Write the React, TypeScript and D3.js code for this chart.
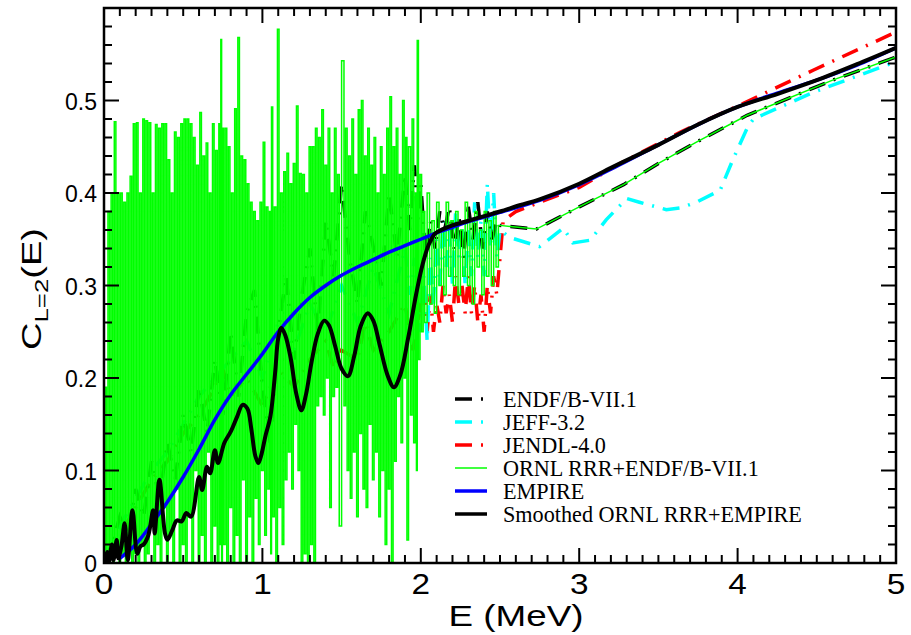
import React from 'react';
import * as d3 from 'd3';

type P = [number, number];

const xTickValues = [0, 1, 2, 3, 4, 5];
const yTickValues = [0, 0.1, 0.2, 0.3, 0.4, 0.5];
const yTickLabels = ['0', '0.1', '0.2', '0.3', '0.4', '0.5'];

const legendLabels = ['ENDF/B-VII.1', 'JEFF-3.2', 'JENDL-4.0', 'ORNL RRR+ENDF/B-VII.1', 'EMPIRE', 'Smoothed ORNL RRR+EMPIRE'];

const empire: P[] = [
  [0.1, 0.005], [0.2, 0.02], [0.3, 0.042], [0.4, 0.066], [0.5, 0.093], [0.6, 0.123], [0.7, 0.155], [0.8, 0.182],
  [0.9, 0.204], [1.0, 0.226], [1.1, 0.25], [1.2, 0.27], [1.3, 0.287], [1.4, 0.30], [1.5, 0.311], [1.6, 0.32],
  [1.7, 0.328], [1.8, 0.336], [1.9, 0.343], [2.0, 0.35], [2.1, 0.357], [2.2, 0.363], [2.3, 0.369], [2.4, 0.374],
  [2.5, 0.379], [2.75, 0.392], [3.0, 0.409], [3.25, 0.43], [3.5, 0.452], [3.75, 0.474], [4.0, 0.493], [4.25, 0.508],
  [4.5, 0.522], [4.75, 0.538], [5.0, 0.557],
];

const smoothed: P[] = [
  [0.0, 0.0], [0.02, 0.012], [0.03, 0.0], [0.05, 0.02], [0.06, 0.003], [0.08, 0.025], [0.09, 0.005], [0.11, 0.018],
  [0.13, 0.043], [0.15, 0.003], [0.18, 0.057], [0.21, 0.01], [0.23, 0.018], [0.25, 0.02], [0.28, 0.03], [0.31, 0.057],
  [0.32, 0.032], [0.35, 0.09], [0.385, 0.032], [0.40, 0.025], [0.43, 0.035], [0.46, 0.046], [0.49, 0.045], [0.52, 0.054],
  [0.55, 0.05], [0.60, 0.093], [0.62, 0.079], [0.65, 0.104], [0.67, 0.097], [0.70, 0.122], [0.72, 0.108], [0.76, 0.13],
  [0.80, 0.142], [0.84, 0.158], [0.875, 0.171], [0.905, 0.167], [0.93, 0.145], [0.955, 0.116], [0.975, 0.108],
  [0.995, 0.118], [1.02, 0.138], [1.05, 0.158], [1.08, 0.205], [1.10, 0.243], [1.12, 0.254], [1.145, 0.246],
  [1.18, 0.22], [1.215, 0.182], [1.246, 0.165], [1.275, 0.182], [1.31, 0.217], [1.35, 0.248], [1.39, 0.262],
  [1.42, 0.257], [1.46, 0.234], [1.50, 0.21], [1.54, 0.202], [1.58, 0.224], [1.62, 0.256], [1.665, 0.27], [1.70, 0.262],
  [1.74, 0.236], [1.79, 0.203], [1.83, 0.19], [1.87, 0.203], [1.92, 0.243], [1.97, 0.29], [2.01, 0.322], [2.05, 0.344],
  [2.09, 0.356], [2.14, 0.361], [2.2, 0.365], [2.3, 0.370], [2.4, 0.375], [2.5, 0.38], [2.63, 0.387], [2.75, 0.393],
  [3.0, 0.410], [3.21, 0.428], [3.5, 0.452], [3.75, 0.474], [4.0, 0.493], [4.25, 0.507], [4.5, 0.522], [4.75, 0.539],
  [5.0, 0.557],
];

const endf: P[] = [
  [0, 0], [0.05, 0.02], [0.1, 0.05], [0.15, 0.03], [0.2, 0.08], [0.25, 0.05], [0.3, 0.11], [0.35, 0.07], [0.4, 0.13],
  [0.45, 0.09], [0.5, 0.16], [0.55, 0.12], [0.6, 0.19], [0.65, 0.14], [0.7, 0.22], [0.75, 0.16], [0.8, 0.25], [0.85, 0.18],
  [0.9, 0.27], [0.95, 0.295], [1.0, 0.19], [1.05, 0.13], [1.1, 0.25], [1.15, 0.31], [1.2, 0.22], [1.25, 0.29], [1.3, 0.34],
  [1.35, 0.25], [1.4, 0.37], [1.45, 0.31], [1.5, 0.41], [1.55, 0.33], [1.6, 0.28], [1.65, 0.38], [1.69, 0.35], [1.75, 0.30],
  [1.8, 0.40], [1.85, 0.33], [1.9, 0.42], [1.93, 0.36], [1.96, 0.43], [1.98, 0.37], [2.0, 0.41], [2.03, 0.33], [2.06, 0.37],
  [2.09, 0.34], [2.12, 0.38], [2.15, 0.36], [2.18, 0.385], [2.21, 0.34], [2.24, 0.375], [2.27, 0.33], [2.3, 0.385],
  [2.33, 0.35], [2.36, 0.39], [2.39, 0.34], [2.42, 0.38], [2.45, 0.35], [2.48, 0.37], [2.5, 0.365], [2.73, 0.361],
  [3.0, 0.385], [3.28, 0.409], [3.5, 0.432], [3.74, 0.455], [4.06, 0.484], [4.6, 0.522], [5.0, 0.547],
];

const jeff: P[] = [
  [0, 0], [0.1, 0.04], [0.2, 0.07], [0.3, 0.1], [0.4, 0.12], [0.5, 0.15], [0.6, 0.18], [0.7, 0.2], [0.8, 0.22], [0.9, 0.24],
  [1.0, 0.2], [1.1, 0.26], [1.2, 0.23], [1.3, 0.28], [1.4, 0.25], [1.5, 0.3], [1.6, 0.26], [1.7, 0.32], [1.8, 0.27],
  [1.9, 0.34], [1.93, 0.29], [1.96, 0.33], [1.99, 0.25], [2.02, 0.31], [2.04, 0.24], [2.06, 0.33], [2.08, 0.28], [2.1, 0.35],
  [2.12, 0.30], [2.14, 0.37], [2.16, 0.32], [2.18, 0.36], [2.2, 0.30], [2.22, 0.38], [2.24, 0.33], [2.26, 0.37], [2.28, 0.30],
  [2.3, 0.36], [2.32, 0.31], [2.34, 0.39], [2.36, 0.33], [2.38, 0.37], [2.4, 0.31], [2.42, 0.41], [2.44, 0.34], [2.46, 0.40],
  [2.48, 0.33], [2.5, 0.36], [2.56, 0.352], [2.75, 0.342], [2.9, 0.362], [2.96, 0.346], [3.07, 0.349], [3.17, 0.371],
  [3.30, 0.394], [3.38, 0.39], [3.55, 0.382], [3.64, 0.384], [3.74, 0.39], [3.89, 0.403], [3.97, 0.436], [4.06, 0.47],
  [4.1, 0.48], [4.48, 0.509], [5.0, 0.542],
];

const jendl: P[] = [
  [0, 0], [0.1, 0.03], [0.2, 0.06], [0.3, 0.09], [0.4, 0.11], [0.5, 0.14], [0.6, 0.16], [0.7, 0.19], [0.75, 0.21], [0.8, 0.18],
  [0.9, 0.2], [1.0, 0.17], [1.1, 0.21], [1.2, 0.19], [1.3, 0.22], [1.4, 0.24], [1.45, 0.21], [1.5, 0.23], [1.6, 0.22],
  [1.65, 0.26], [1.7, 0.23], [1.8, 0.25], [1.9, 0.28], [1.95, 0.23], [2.0, 0.28], [2.02, 0.30], [2.04, 0.25], [2.06, 0.29],
  [2.08, 0.25], [2.1, 0.28], [2.12, 0.26], [2.14, 0.30], [2.16, 0.27], [2.18, 0.29], [2.2, 0.26], [2.22, 0.31], [2.24, 0.28],
  [2.26, 0.30], [2.28, 0.27], [2.3, 0.31], [2.32, 0.27], [2.34, 0.30], [2.36, 0.26], [2.38, 0.29], [2.4, 0.25], [2.42, 0.30],
  [2.44, 0.27], [2.46, 0.31], [2.48, 0.29], [2.5, 0.33], [2.52, 0.37], [2.6, 0.38], [2.75, 0.39], [3.0, 0.406], [3.26, 0.432],
  [3.64, 0.466], [4.0, 0.494], [4.48, 0.533], [5.0, 0.574],
];

const ornl: P[] = [
  [0.00, 0.00], [0.01, 0.19], [0.02, 0.00], [0.03, 0.38], [0.04, 0.01], [0.05, 0.40], [0.06, 0.00], [0.07, 0.477],
  [0.08, 0.02], [0.09, 0.40], [0.10, 0.00], [0.11, 0.40], [0.12, 0.01], [0.13, 0.39], [0.14, 0.00], [0.15, 0.40],
  [0.16, 0.03], [0.17, 0.418], [0.18, 0.00], [0.19, 0.475], [0.20, 0.01], [0.21, 0.476], [0.22, 0.00], [0.23, 0.40],
  [0.24, 0.02], [0.25, 0.48], [0.26, 0.00], [0.27, 0.478], [0.28, 0.01], [0.29, 0.476], [0.30, 0.04], [0.31, 0.40],
  [0.32, 0.00], [0.33, 0.474], [0.34, 0.02], [0.35, 0.47], [0.36, 0.00], [0.37, 0.475], [0.38, 0.06], [0.39, 0.475],
  [0.40, 0.00], [0.41, 0.436], [0.42, 0.03], [0.43, 0.40], [0.44, 0.00], [0.45, 0.466], [0.46, 0.08], [0.47, 0.46],
  [0.48, 0.00], [0.49, 0.475], [0.50, 0.02], [0.51, 0.48], [0.52, 0.00], [0.53, 0.48], [0.54, 0.05], [0.55, 0.475],
  [0.56, 0.00], [0.57, 0.46], [0.58, 0.10], [0.59, 0.43], [0.60, 0.00], [0.61, 0.487], [0.62, 0.03], [0.63, 0.44],
  [0.64, 0.00], [0.65, 0.454], [0.66, 0.12], [0.67, 0.40], [0.68, 0.00], [0.69, 0.475], [0.70, 0.04], [0.71, 0.446],
  [0.72, 0.00], [0.73, 0.475], [0.735, 0.02], [0.74, 0.566], [0.745, 0.00], [0.75, 0.47], [0.76, 0.02], [0.77, 0.47],
  [0.78, 0.00], [0.79, 0.45], [0.80, 0.06], [0.81, 0.40], [0.82, 0.00], [0.83, 0.491], [0.84, 0.03], [0.85, 0.568],
  [0.86, 0.00], [0.87, 0.44], [0.88, 0.09], [0.89, 0.436], [0.90, 0.00], [0.91, 0.41], [0.92, 0.05], [0.93, 0.39],
  [0.94, 0.00], [0.95, 0.38], [0.96, 0.07], [0.97, 0.37], [0.98, 0.02], [0.99, 0.39], [1.00, 0.10], [1.01, 0.455],
  [1.02, 0.03], [1.03, 0.385], [1.04, 0.08], [1.05, 0.38], [1.055, 0.01], [1.06, 0.493], [1.07, 0.05], [1.08, 0.385],
  [1.09, 0.00], [1.10, 0.577], [1.11, 0.06], [1.12, 0.40], [1.13, 0.02], [1.14, 0.423], [1.15, 0.09], [1.16, 0.443],
  [1.17, 0.12], [1.18, 0.41], [1.19, 0.08], [1.20, 0.432], [1.21, 0.15], [1.22, 0.494], [1.23, 0.10], [1.24, 0.421],
  [1.25, 0.00], [1.26, 0.42], [1.27, 0.01], [1.28, 0.40], [1.29, 0.00], [1.30, 0.45], [1.31, 0.02], [1.32, 0.45],
  [1.33, 0.00], [1.34, 0.47], [1.35, 0.17], [1.36, 0.46], [1.37, 0.18], [1.38, 0.49], [1.39, 0.16], [1.40, 0.43],
  [1.41, 0.20], [1.42, 0.47], [1.43, 0.06], [1.44, 0.40], [1.45, 0.18], [1.46, 0.47], [1.47, 0.19], [1.48, 0.42],
  [1.49, 0.04], [1.51, 0.543], [1.52, 0.17], [1.53, 0.47], [1.54, 0.10], [1.55, 0.44], [1.56, 0.07], [1.57, 0.48],
  [1.58, 0.12], [1.59, 0.42], [1.60, 0.05], [1.61, 0.49], [1.62, 0.14], [1.63, 0.50], [1.64, 0.08], [1.65, 0.44],
  [1.66, 0.06], [1.67, 0.47], [1.68, 0.15], [1.69, 0.43], [1.70, 0.09], [1.71, 0.46], [1.72, 0.12], [1.73, 0.40],
  [1.74, 0.05], [1.75, 0.45], [1.76, 0.10], [1.77, 0.42], [1.78, 0.02], [1.79, 0.47], [1.80, 0.08], [1.81, 0.504],
  [1.82, 0.00], [1.83, 0.45], [1.84, 0.11], [1.85, 0.47], [1.86, 0.18], [1.87, 0.42], [1.88, 0.13], [1.89, 0.50],
  [1.90, 0.20], [1.91, 0.46], [1.915, 0.025], [1.93, 0.45], [1.94, 0.16], [1.95, 0.48], [1.96, 0.13], [1.97, 0.40],
  [1.975, 0.10], [1.98, 0.565], [1.99, 0.22], [2.00, 0.42], [2.01, 0.25], [2.02, 0.38], [2.03, 0.26], [2.05, 0.40],
  [2.06, 0.28], [2.08, 0.37], [2.09, 0.27], [2.11, 0.39], [2.12, 0.30], [2.14, 0.36], [2.15, 0.29], [2.17, 0.39],
  [2.18, 0.31], [2.20, 0.37], [2.21, 0.30], [2.23, 0.38], [2.24, 0.29], [2.26, 0.36], [2.27, 0.31], [2.29, 0.39],
  [2.30, 0.30], [2.32, 0.37], [2.33, 0.28], [2.35, 0.38], [2.36, 0.32], [2.38, 0.36], [2.39, 0.29], [2.41, 0.38],
  [2.42, 0.31], [2.44, 0.37], [2.45, 0.30], [2.47, 0.38], [2.48, 0.32], [2.50, 0.365], [2.73, 0.361], [3.0, 0.385],
  [3.28, 0.409], [3.5, 0.432], [3.74, 0.455], [4.06, 0.484], [4.6, 0.522], [5.0, 0.547],
];

const L = 104, R = 896, T = 8, B = 563;
const DASH = '17,9,2,9';
const SANS = "'Liberation Sans', Arial, Helvetica, sans-serif";

export default function App() {
  const x = d3.scaleLinear().domain([0, 5]).range([L, R]);
  const y = d3.scaleLinear().domain([0, 0.6]).range([B, T]);
  const lin = d3.line<P>().x(d => x(d[0])).y(d => y(d[1]));
  const smooth = d3.line<P>().x(d => x(d[0])).y(d => y(d[1])).curve(d3.curveCatmullRom.alpha(0.5));

  // resonance part drawn as near-vertical spikes (step), tail as straight segments
  const ornlRes = ornl.filter(d => d[0] <= 2.5);
  const ornlTail = ornl.filter(d => d[0] >= 2.5);
  const step = d3.line<P>().x(d => x(d[0])).y(d => y(d[1])).curve(d3.curveStep);

  const xMinor = d3.range(0, 51).map(i => i / 10);
  const yMinor = d3.range(0, 31).map(i => i / 50);

  const tickStroke = { stroke: '#000', strokeWidth: 2 };

  const legendStyles = [
    { color: '#000', dash: DASH, w: 3.5 },
    { color: '#00ffff', dash: DASH, w: 3.5 },
    { color: '#ff0000', dash: DASH, w: 3.5 },
    { color: '#00ff00', dash: undefined, w: 1.5 },
    { color: '#0000ff', dash: undefined, w: 3.5 },
    { color: '#000', dash: undefined, w: 3.5 },
  ];

  return (
    <svg width={911} height={635} style={{ position: 'absolute', left: 0, top: 0, background: '#fff' }}>
      <defs>
        <clipPath id="plot">
          <rect x={L} y={T} width={R - L} height={B - T} />
        </clipPath>
      </defs>
      <g clipPath="url(#plot)" fill="none">
        <path d={lin(jendl) || ''} stroke="#ff0000" strokeWidth={3.5} strokeDasharray={DASH} />
        <path d={lin(jeff) || ''} stroke="#00ffff" strokeWidth={3.5} strokeDasharray={DASH} />
        <path d={lin(endf) || ''} stroke="#000" strokeWidth={3.5} strokeDasharray={DASH} />
        <path d={step(ornlRes) || ''} stroke="#00ff00" strokeWidth={1.5} />
        <path d={lin(ornlTail) || ''} stroke="#00ff00" strokeWidth={1.5} />
        <path d={smooth(empire) || ''} stroke="#0000ff" strokeWidth={3.5} />
        <path d={smooth(smoothed) || ''} stroke="#000" strokeWidth={4} strokeLinejoin="round" />
      </g>

      {xMinor.map((v, i) => {
        const major = i % 10 === 0;
        const len = major ? 15 : 8;
        return (
          <g key={'xt' + i}>
            <line x1={x(v)} x2={x(v)} y1={B} y2={B - len} {...tickStroke} />
            <line x1={x(v)} x2={x(v)} y1={T} y2={T + len} {...tickStroke} />
          </g>
        );
      })}
      {yMinor.map((v, i) => {
        const major = i % 5 === 0;
        const len = major ? 15 : 8;
        return (
          <g key={'yt' + i}>
            <line x1={L} x2={L + len} y1={y(v)} y2={y(v)} {...tickStroke} />
            <line x1={R} x2={R - len} y1={y(v)} y2={y(v)} {...tickStroke} />
          </g>
        );
      })}
      <rect x={L} y={T} width={R - L} height={B - T} fill="none" stroke="#000" strokeWidth={2.5} />

      {yTickValues.map((v, i) => (
        <text key={'yl' + i} x={97} y={y(v) + 1} textAnchor="end" dominantBaseline="central"
          fontFamily={SANS} fontSize={23}>{yTickLabels[i]}</text>
      ))}
      {xTickValues.map((v, i) => (
        <text key={'xl' + i} transform={`translate(${x(v)},594) scale(1.15,1)`} textAnchor="middle"
          fontFamily={SANS} fontSize={29}>{String(v)}</text>
      ))}

      <text transform="translate(516,626) scale(1.27,1)" textAnchor="middle"
        fontFamily={SANS} fontSize={29}>E (MeV)</text>
      <text transform="translate(41,289) rotate(-90) scale(1.36,1)" textAnchor="middle"
        fontFamily={SANS} fontSize={28}>
        C<tspan fontSize={19} dy={7}>L=2</tspan><tspan dy={-7}>(E)</tspan>
      </text>

      {legendLabels.map((lab, i) => {
        const ly = 399 + i * 23;
        const s = legendStyles[i];
        return (
          <g key={'lg' + i}>
            <line x1={455} x2={487} y1={ly} y2={ly} stroke={s.color} strokeWidth={s.w} strokeDasharray={s.dash} />
            <text x={503} y={ly} dominantBaseline="central" fontFamily="'Liberation Serif', 'Times New Roman', serif"
              fontSize={22.2}>{lab}</text>
          </g>
        );
      })}
    </svg>
  );
}
